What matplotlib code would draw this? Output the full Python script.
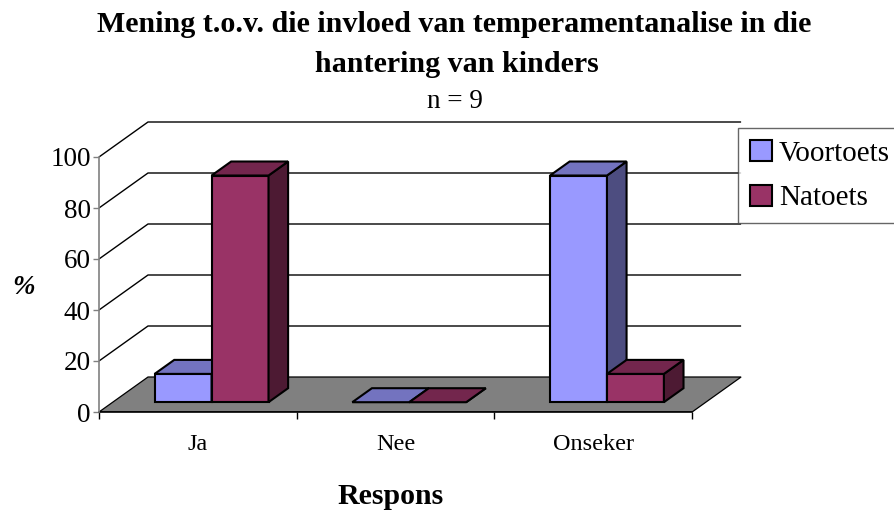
import matplotlib
matplotlib.use("Agg")
import matplotlib.pyplot as plt
from matplotlib.patches import Polygon
import numpy as np

categories = ["Ja", "Nee", "Onseker"]
series_names = ["Voortoets", "Natoets"]
voortoets = [11.1, 0.0, 88.9]
natoets = [88.9, 0.0, 11.1]
yticks = [0, 20, 40, 60, 80, 100]

front_colors = ["#9999FF", "#993366"]
top_colors = ["#7373BF", "#73264D"]
side_colors = ["#4D4D80", "#4D1A33"]

plt.rcParams['font.family'] = ['Liberation Serif', 'DejaVu Serif']

W, H = 895, 512
fig = plt.figure(figsize=(W / 100, H / 100), dpi=100)

# layout in pixels
px_per_x = 197.7
px_per_y = 2.55
XL, YL = 3.25, 115
x0_px, y0_px = 99, 412
ax = fig.add_axes([x0_px / W, (H - y0_px) / H, XL * px_per_x / W, YL * px_per_y / H])
ax.set_xlim(0, XL)
ax.set_ylim(0, YL)

dxd = 49 / px_per_x   # depth offset in x data units
dyd = 35 / px_per_y   # depth offset in y data units
f = 0.28              # front face depth fraction
bd = 0.40             # bar depth fraction
w = 0.288             # bar width

ncat = len(categories)

# floor
floor = Polygon([(0, 0), (ncat, 0), (ncat + dxd, dyd), (dxd, dyd)], closed=True,
                facecolor="#808080", edgecolor="black", lw=0.9, zorder=1)
ax.add_patch(floor)

# gridlines on back wall
for v in yticks[1:]:
    ax.plot([0, dxd, ncat + dxd], [v, v + dyd, v + dyd], color="black", lw=1.0,
            zorder=0.5, solid_capstyle='butt')

# bars
data = [voortoets, natoets]
x_idx = np.arange(ncat) + 0.5
for s, vals in enumerate(data):
    lefts = x_idx - w + s * w + f * dxd
    bottom = f * dyd
    bars = ax.bar(lefts, vals, width=w, bottom=bottom, align='edge',
                  color=front_colors[s], edgecolor="black", lw=1.5, zorder=3 + s,
                  label=series_names[s])
    for xl, v in zip(lefts, vals):
        yt = bottom + v
        top = Polygon([(xl, yt), (xl + w, yt), (xl + w + bd * dxd, yt + bd * dyd),
                       (xl + bd * dxd, yt + bd * dyd)], closed=True,
                      facecolor=top_colors[s], edgecolor="black", lw=1.5, zorder=3 + s)
        side = Polygon([(xl + w, bottom), (xl + w + bd * dxd, bottom + bd * dyd),
                        (xl + w + bd * dxd, yt + bd * dyd), (xl + w, yt)], closed=True,
                       facecolor=side_colors[s], edgecolor="black", lw=1.5, zorder=3 + s)
        ax.add_patch(side)
        ax.add_patch(top)

# axes styling
for sp in ["top", "right"]:
    ax.spines[sp].set_visible(False)
ax.spines["left"].set_bounds(0, 100)
ax.spines["left"].set_color("#808080")
ax.spines["left"].set_linewidth(1.2)
ax.spines["bottom"].set_bounds(0, ncat)
ax.spines["bottom"].set_color("black")
ax.spines["bottom"].set_linewidth(1.2)
ax.spines["bottom"].set_zorder(2)

ax.set_yticks(yticks)
ax.set_yticklabels([str(t) for t in yticks], fontsize=19.5)
ax.tick_params(axis='y', length=4, width=1, color="#808080", pad=2)

ax.set_xticks(np.arange(ncat + 1))
ax.set_xticklabels([])
ax.tick_params(axis='x', which='major', length=5, width=1, color="black")
ax.set_xticks(x_idx, minor=True)
ax.set_xticklabels(categories, minor=True, fontsize=17.5)
ax.tick_params(axis='x', which='minor', length=0, pad=16)

# titles and labels
fig.text(454 / W, 1 - 32 / H, "Mening t.o.v. die invloed van temperamentanalise in die",
         ha='center', va='baseline', fontsize=21.6, fontweight='bold')
fig.text(457 / W, 1 - 72 / H, "hantering van kinders",
         ha='center', va='baseline', fontsize=21.6, fontweight='bold')
fig.text(455 / W, 1 - 108 / H, "n = 9", ha='center', va='baseline', fontsize=19.5)
fig.text(24 / W, 1 - 287 / H, "%", ha='center', va='center', fontsize=19.5,
         fontweight='bold', style='italic')
fig.text(391 / W, 1 - 497 / H, "Respons", ha='center', va='center', fontsize=21.5,
         fontweight='bold')

leg = fig.legend(loc='upper left', bbox_to_anchor=(738 / W, 1 - 128 / H),
                 fontsize=21, frameon=True, fancybox=False, edgecolor="#404040",
                 handlelength=0.75, handleheight=0.75, handletextpad=0.25,
                 borderpad=0.4, labelspacing=0.62, borderaxespad=0)
leg.get_frame().set_linewidth(1.0)

fig.savefig("out.png", dpi=100)
